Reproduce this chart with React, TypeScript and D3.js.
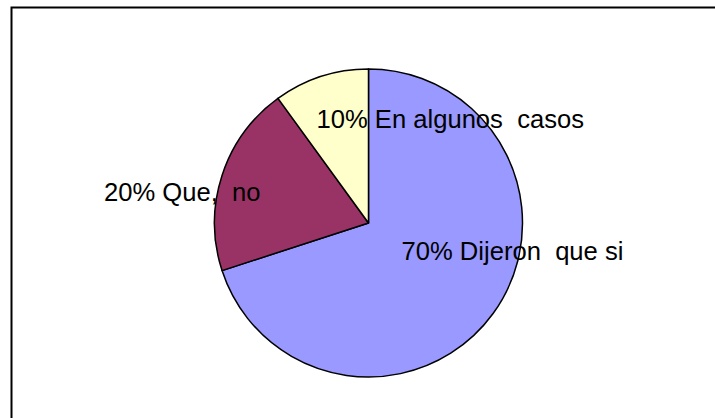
import React from "react";
import * as d3 from "d3";

const categories = ["Dijeron  que si", "Que,  no", "En algunos  casos"];
const values = [70, 20, 10];
const colors = ["#9999FF", "#993366", "#FFFFCC"];

const W = 715;
const H = 418;
const CX = 368.5;
const CY = 223;
const R = 154;
// label anchor offsets (start of text, baseline) relative to pie centre
const labelOffsets: [number, number][] = [
  [33, 36.5],
  [-264.5, -22],
  [-52, -95.5],
];

export default function App() {
  const total = d3.sum(values);
  const pie = d3
    .pie<number>()
    .sort(null)
    .value((d) => d)
    .startAngle(0)
    .endAngle(2 * Math.PI);
  const arcs = pie(values);
  const arc = d3.arc<d3.PieArcDatum<number>>().innerRadius(0).outerRadius(R);

  return (
    <svg
      width={W}
      height={H}
      style={{ position: "absolute", left: 0, top: 0, display: "block", background: "#fff" }}
    >
      <rect x={11.5} y={7.5} width={W + 20} height={H + 20} fill="#fff" stroke="#000" strokeWidth={2} />
      <g transform={`translate(${CX},${CY})`}>
        {arcs.map((a, i) => (
          <path key={i} d={arc(a) || ""} fill={colors[i]} stroke="#000" strokeWidth={1.5} strokeLinejoin="round" />
        ))}
        {arcs.map((a, i) => (
          <text
            key={"t" + i}
            x={labelOffsets[i][0]}
            y={labelOffsets[i][1]}
            fontFamily="'Liberation Sans', Arial, sans-serif"
            fontSize={25.6}
            fill="#000"
            style={{ whiteSpace: "pre" }}
          >
            {`${Math.round((values[i] / total) * 100)}% ${categories[i]}`}
          </text>
        ))}
      </g>
    </svg>
  );
}
